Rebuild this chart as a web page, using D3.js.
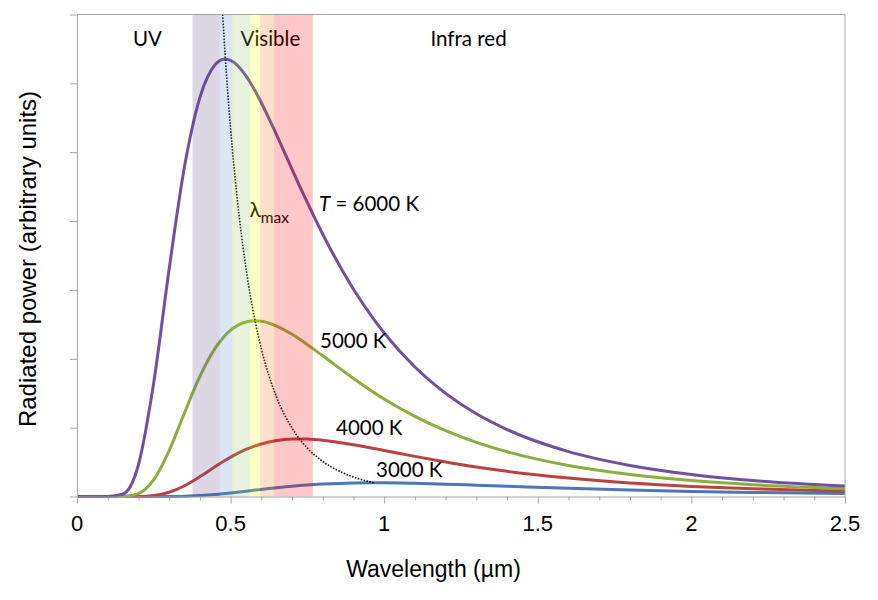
<!DOCTYPE html>
<html><head><meta charset="utf-8">
<script src="https://cdn.jsdelivr.net/npm/d3@7"></script>
<style>body{margin:0;background:#fff}</style>
</head><body>
<svg id="c" width="878" height="600"></svg>
<script>
// ---- data ----
const wavelength = [0, 0.1, 0.15, 0.2, 0.25, 0.3, 0.35, 0.4, 0.45, 0.48, 0.5, 0.55, 0.58, 0.6, 0.65, 0.7, 0.725, 0.75, 0.8, 0.9, 0.97, 1.0, 1.1, 1.2, 1.3, 1.4, 1.6, 1.8, 2.0, 2.2, 2.5];
const p6000 = [0, 0, 0.036, 0.461, 1.661, 3.304, 4.792, 5.793, 6.273, 6.351, 6.334, 6.109, 5.888, 5.718, 5.249, 4.752, 4.505, 4.267, 3.808, 3.011, 2.550, 2.375, 1.880, 1.498, 1.201, 0.972, 0.652, 0.451, 0.320, 0.233, 0.151];
const p5000 = [0, 0, 0.001, 0.042, 0.244, 0.667, 1.216, 1.744, 2.154, 2.328, 2.415, 2.535, 2.552, 2.546, 2.476, 2.356, 2.284, 2.206, 2.043, 1.715, 1.501, 1.416, 1.163, 0.955, 0.785, 0.649, 0.449, 0.319, 0.231, 0.171, 0.113];
const p4000 = [0, 0, 0, 0.001, 0.014, 0.061, 0.156, 0.289, 0.435, 0.519, 0.571, 0.683, 0.735, 0.763, 0.812, 0.834, 0.836, 0.834, 0.817, 0.753, 0.695, 0.669, 0.583, 0.502, 0.429, 0.366, 0.268, 0.197, 0.147, 0.112, 0.076];
const p3000 = [0, 0, 0, 0, 0, 0.001, 0.005, 0.014, 0.030, 0.043, 0.052, 0.077, 0.093, 0.103, 0.128, 0.150, 0.159, 0.168, 0.181, 0.196, 0.198, 0.198, 0.191, 0.179, 0.164, 0.149, 0.119, 0.094, 0.074, 0.059, 0.042];
const wienWavelength = [0.474, 0.49, 0.5, 0.52, 0.55, 0.58, 0.6, 0.65, 0.7, 0.75, 0.8, 0.85, 0.9, 0.966];
const wienPower = [7.0, 5.909, 5.341, 4.390, 3.317, 2.543, 2.147, 1.439, 0.993, 0.703, 0.509, 0.376, 0.283, 0.198];
const bandStart = [0.376, 0.465, 0.506, 0.563, 0.596, 0.641];
const bandEnd = [0.465, 0.506, 0.563, 0.596, 0.641, 0.768];
const xTickValues = [0, 0.5, 1, 1.5, 2, 2.5];
const xTickLabels = ["0", "0.5", "1", "1.5", "2", "2.5"];
const yTickValues = [0, 1, 2, 3, 4, 5, 6, 7];
const seriesLabels = ["3000 K", "4000 K", "5000 K", "= 6000 K"];

// ---- styles ----
const seriesColors = ["#4a79b6", "#b94343", "#8bae3f", "#7150a0"];
const bandColors = ["#60458a", "#5b89c8", "#92c860", "#f6f605", "#f67213", "#ff0000"];
const axisColor = "#a6a6a6";
const labelFont = "Lato, 'Open Sans', sans-serif";
const axisFont = "'Liberation Sans', Arial, sans-serif";

const svg = d3.select("#c");
const x = d3.scaleLinear().domain([0, 2.5]).range([77, 845]);
const y = d3.scaleLinear().domain([0, 7]).range([496.5, 14.5]);

const line = d3.line().curve(d3.curveMonotoneX).x(d => x(d[0])).y(d => y(d[1]));

// curves (blue first, purple last)
const series = [p3000, p4000, p5000, p6000];
series.forEach((vals, i) => {
  svg.append("path")
    .datum(wavelength.map((w, j) => [w, vals[j]]))
    .attr("d", line)
    .attr("fill", "none")
    .attr("stroke", seriesColors[i])
    .attr("stroke-width", 3)
    .attr("stroke-linejoin", "round");
});

// Wien displacement (lambda max) dotted line
svg.append("path")
  .datum(wienWavelength.map((w, j) => [w, wienPower[j]]))
  .attr("d", line)
  .attr("fill", "none")
  .attr("stroke", "#000")
  .attr("stroke-width", 1.6)
  .attr("stroke-dasharray", "1.5,1.5");

// text annotations
function txt(t, px, py, size, opts = {}) {
  return svg.append("text").attr("x", px).attr("y", py)
    .attr("font-family", opts.font || labelFont)
    .attr("font-size", size)
    .attr("fill", "#000")
    .attr("text-anchor", opts.anchor || "start")
    .text(t);
}
txt("UV", 133, 46, 20.5);
txt("Visible", 240.5, 46, 20.5);
txt("Infra red", 430.5, 46, 20.5);

const t6 = svg.append("text").attr("x", 319).attr("y", 211)
  .attr("font-family", labelFont).attr("font-size", 20.5).attr("fill", "#000");
t6.append("tspan").attr("font-style", "italic").text("T");
t6.append("tspan").text(" " + seriesLabels[3]);
txt(seriesLabels[2], 320, 348, 20.5);
txt(seriesLabels[1], 336, 435, 20.5);
txt(seriesLabels[0], 376, 476.5, 20.5);

const lm = svg.append("text").attr("x", 249.5).attr("y", 216.5)
  .attr("font-family", labelFont).attr("font-size", 21).attr("fill", "#000");
lm.append("tspan").text("λ");
lm.append("tspan").attr("font-size", 15.5).attr("dy", 6).text("max");

// spectrum bands as translucent overlay
bandStart.forEach((b, i) => {
  svg.append("rect")
    .attr("x", x(b)).attr("y", y(7))
    .attr("width", x(bandEnd[i]) - x(b))
    .attr("height", y(0) - y(7))
    .attr("fill", bandColors[i])
    .attr("fill-opacity", 0.22);
});

// axes
const xAxis = d3.axisBottom(x)
  .tickValues(d3.range(0, 26).map(k => k / 10))
  .tickSize(4).tickSizeOuter(0).tickFormat("");
const gx = svg.append("g").attr("transform", `translate(0,${y(0)})`).call(xAxis);
gx.selectAll(".tick line").filter(d => Math.abs(d * 2 - Math.round(d * 2)) < 1e-6).attr("y2", 7);
gx.selectAll("path, line").attr("stroke", axisColor);

const yAxis = d3.axisLeft(y).tickValues(yTickValues).tickSize(7).tickSizeOuter(0).tickFormat("");
const gy = svg.append("g").attr("transform", `translate(${x(0)},0)`).call(yAxis);
gy.selectAll("path, line").attr("stroke", axisColor);

// frame top & right
svg.append("line").attr("x1", x(0)).attr("x2", x(2.5)).attr("y1", y(7)).attr("y2", y(7))
  .attr("stroke", axisColor);
svg.append("line").attr("x1", x(2.5)).attr("x2", x(2.5)).attr("y1", y(7)).attr("y2", y(0))
  .attr("stroke", axisColor);

// tick labels
xTickValues.forEach((v, i) => {
  txt(xTickLabels[i], x(v), 531, 22, { font: axisFont, anchor: "middle" });
});

// axis titles
txt("Wavelength (µm)", 433.5, 577, 23, { font: axisFont, anchor: "middle" });
svg.append("text")
  .attr("transform", "translate(36,259) rotate(-90)")
  .attr("text-anchor", "middle")
  .attr("font-family", axisFont).attr("font-size", 24).attr("fill", "#000")
  .text("Radiated power (arbitrary units)");
</script>
</body></html>
